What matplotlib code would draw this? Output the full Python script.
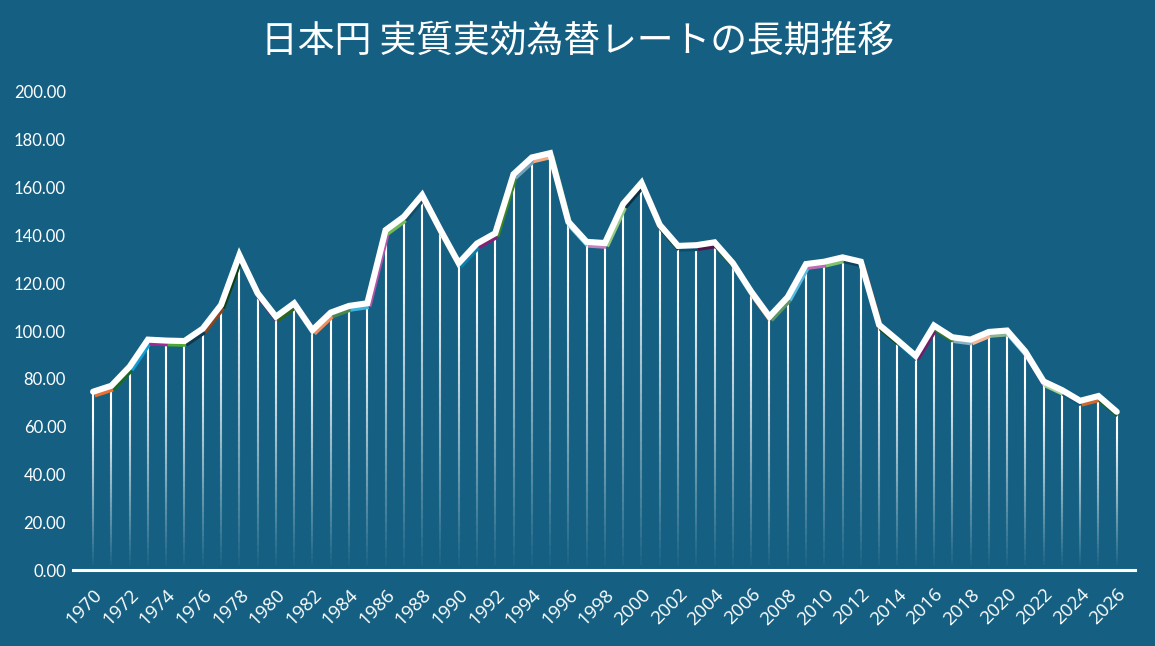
import numpy as np
import matplotlib
matplotlib.use("Agg")
import matplotlib.pyplot as plt
import matplotlib.transforms as mtransforms
from matplotlib.collections import LineCollection
from matplotlib import colors as mcolors

# 実質実効為替レート (年次)
years = list(range(1970, 2027))
reer = [74.6, 77.1, 85.1, 96.4, 96.0, 95.8, 101.0, 110.9, 131.8, 115.8,
        106.0, 111.6, 100.4, 107.7, 110.5, 111.6, 142.2, 147.8, 156.9, 142.3,
        128.4, 136.6, 140.9, 165.6, 172.6, 174.4, 145.7, 137.3, 136.8, 153.2,
        162.0, 144.4, 135.6, 135.9, 137.1, 128.4, 116.5, 106.0, 114.2, 128.0,
        129.0, 130.8, 129.0, 102.6, 96.2, 89.6, 102.3, 97.4, 96.4, 99.6,
        100.2, 91.4, 78.9, 75.3, 70.8, 72.8, 66.2]
title = "日本円 実質実効為替レートの長期推移"

bg = "#156082"
accents = ["#156082", "#E97132", "#196B24", "#0F9ED5", "#A02B93", "#4EA72E"]
# excel style variation per cycle: (+) lighten, (-) darken
mods = [0, -0.4, 0.2, -0.2, 0.4, -0.5, 0.3, -0.3, 0.5, -0.1]


def shade(c, m):
    rgb = np.array(mcolors.to_rgb(c))
    if m < 0:
        return tuple(rgb * (1 + m))
    return tuple(rgb + (1 - rgb) * m)


seg_colors = [shade(accents[i % 6], mods[(i // 6) % len(mods)]) for i in range(len(years))]

plt.rcParams['font.family'] = ['Lato', 'DejaVu Sans']

fig = plt.figure(figsize=(11.55, 6.46), dpi=100, facecolor=bg)
ax = fig.add_axes([0.0632, 0.1176, 0.9195, 0.74])
ax.set_facecolor(bg)

x = np.array(years, dtype=float)
y = np.array(reer)

# drop lines with fade to the bottom
segs, cols = [], []
n = 40
for xi, yi in zip(x, y):
    edges = np.linspace(2.0, yi, n + 1)
    for k in range(n):
        f = (k + 0.5) / n
        segs.append([(xi, edges[k]), (xi, edges[k + 1])])
        cols.append((1, 1, 1, min(1.0, 0.02 + 1.15 * f ** 1.0)))
ax.add_collection(LineCollection(segs, colors=cols, linewidths=1.5, zorder=2))

# coloured segments slightly offset under the white line
offset = mtransforms.ScaledTranslation(1 / 72, -2.2 / 72, fig.dpi_scale_trans)
pts = np.column_stack([x, y])
csegs = [[pts[i - 1], pts[i]] for i in range(1, len(pts))]
lc = LineCollection(csegs, colors=seg_colors[1:], linewidths=4, capstyle='butt',
                    transform=ax.transData + offset, zorder=3)
ax.add_collection(lc)

ax.plot(x, y, color="white", lw=4.4, solid_joinstyle='miter', solid_capstyle='round', zorder=4)

ax.axhline(0, color="white", lw=2.2, zorder=5, clip_on=False)

ax.set_xlim(1968.9, 2027.0)
ax.set_ylim(0, 200)
ax.set_yticks(np.arange(0, 201, 20))
ax.set_yticklabels([f"{v:.2f}" for v in np.arange(0, 201, 20)])
ax.set_xticks(years[::2])
ax.set_xticklabels([str(v) for v in years[::2]], rotation=45, ha='right', rotation_mode='anchor',
                   family=['Open Sans', 'DejaVu Sans'], fontsize=13.5)
ax.tick_params(axis='y', colors='white', length=0, labelsize=12, pad=5)
ax.tick_params(axis='x', colors='white', length=0, pad=11)
for s in ax.spines.values():
    s.set_visible(False)

fig.text(0.5, 0.936, title, ha='center', va='center', color='white', fontsize=26.5,
         family=['Noto Sans CJK JP', 'DejaVu Sans'])

fig.savefig("out.png", dpi=100, facecolor=bg)
